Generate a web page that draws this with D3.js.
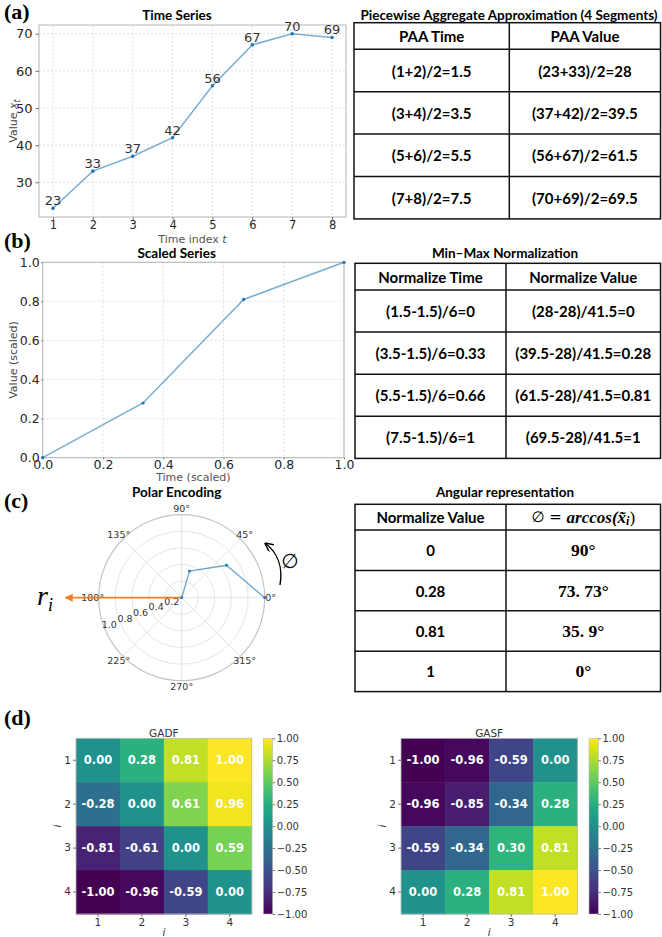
<!DOCTYPE html>
<html><head><meta charset="utf-8">
<script src="https://cdn.jsdelivr.net/npm/d3@7"></script>
<style>body{margin:0;background:#fff}svg{display:block}</style>
</head><body>
<svg id="c" width="662" height="937"></svg>
<script>
// ---------------- DATA ----------------
const timeIdx = [1, 2, 3, 4, 5, 6, 7, 8];
const values = [23, 33, 37, 42, 56, 67, 70, 69];
const tsYTicks = [30, 40, 50, 60, 70];
const scaledTime = [0, 0.333, 0.667, 1];
const scaledValue = [0, 0.28, 0.81, 1];
const scaledTicks = [0, 0.2, 0.4, 0.6, 0.8, 1.0];
const phiDeg = [90, 73.73, 35.9, 0];
const polarAngleTicks = [0, 45, 90, 135, 180, 225, 270, 315];
const polarRTicks = [0.2, 0.4, 0.6, 0.8, 1.0];
const paaHeader = ["PAA Time", "PAA Value"];
const paaTime = ["(1+2)/2=1.5", "(3+4)/2=3.5", "(5+6)/2=5.5", "(7+8)/2=7.5"];
const paaValue = ["(23+33)/2=28", "(37+42)/2=39.5", "(56+67)/2=61.5", "(70+69)/2=69.5"];
const normHeader = ["Normalize Time", "Normalize Value"];
const normTime = ["(1.5-1.5)/6=0", "(3.5-1.5)/6=0.33", "(5.5-1.5)/6=0.66", "(7.5-1.5)/6=1"];
const normValue = ["(28-28)/41.5=0", "(39.5-28)/41.5=0.28", "(61.5-28)/41.5=0.81", "(69.5-28)/41.5=1"];
const angHeader = ["Normalize Value", "phi"];
const angValue = ["0", "0.28", "0.81", "1"];
const angPhi = ["90°", "73. 73°", "35. 9°", "0°"];
const heatIdx = [1, 2, 3, 4];
const gadf = [[0.00, 0.28, 0.81, 1.00], [-0.28, 0.00, 0.61, 0.96], [-0.81, -0.61, 0.00, 0.59], [-1.00, -0.96, -0.59, 0.00]];
const gasf = [[-1.00, -0.96, -0.59, 0.00], [-0.96, -0.85, -0.34, 0.28], [-0.59, -0.34, 0.30, 0.81], [0.00, 0.28, 0.81, 1.00]];
const cbTicks = [1.00, 0.75, 0.50, 0.25, 0.00, -0.25, -0.50, -0.75, -1.00];

// ---------------- STYLE ----------------
const SANS = "DejaVu Sans", CAL = "Lato", SERIF = "Liberation Serif";
const BLUE = "#1f77b4", ORANGE = "#f07f23";
const svg = d3.select("#c");
const defs = svg.append("defs");

function styleAxis(g, size, color) {
  g.select(".domain").remove();
  g.selectAll(".tick line").attr("stroke", "#555").attr("stroke-width", 0.8);
  g.selectAll(".tick text").attr("font-family", SANS).attr("font-size", size).attr("fill", color || "#262626");
}

// panel labels
[["(a)", 4, 19], ["(b)", 4, 248], ["(c)", 4, 508], ["(d)", 4, 725]].forEach(p => {
  svg.append("text").attr("x", p[1]).attr("y", p[2]).text(p[0])
    .attr("font-family", SERIF).attr("font-weight", "bold").attr("font-size", 22).attr("fill", "#000");
});

function title(txt, x, y, size) {
  svg.append("text").attr("x", x).attr("y", y).text(txt).attr("text-anchor", "middle")
    .attr("dominant-baseline", "central").attr("font-family", CAL).attr("font-weight", "bold")
    .attr("font-size", size || 13.5).attr("fill", "#000");
}

// ---------------- (a) Time series ----------------
{
  const L = 39, R = 346, T = 25, B = 217;
  const x = d3.scaleLinear().domain([0.65, 8.35]).range([L, R]);
  const y = d3.scaleLinear().domain([20.65, 72.35]).range([B, T]);
  const g = svg.append("g");
  g.selectAll(".gx").data(timeIdx).join("line").attr("x1", d => x(d)).attr("x2", d => x(d)).attr("y1", T).attr("y2", B)
    .attr("stroke", "#d8d8d8").attr("stroke-width", 0.8).attr("stroke-dasharray", "2,2");
  g.selectAll(".gy").data(tsYTicks).join("line").attr("y1", d => y(d)).attr("y2", d => y(d)).attr("x1", L).attr("x2", R)
    .attr("stroke", "#d8d8d8").attr("stroke-width", 0.8).attr("stroke-dasharray", "2,2");
  g.append("rect").attr("x", L).attr("y", T).attr("width", R - L).attr("height", B - T).attr("fill", "none").attr("stroke", "#b5b5b5");
  const ax = g.append("g").attr("transform", `translate(0,${B})`).call(d3.axisBottom(x).tickValues(timeIdx).tickSize(3).tickPadding(1).tickFormat(d3.format("d")));
  styleAxis(ax, 11.5);
  const ay = g.append("g").attr("transform", `translate(${L},0)`).call(d3.axisLeft(y).tickValues(tsYTicks).tickSize(3.5).tickPadding(3).tickFormat(d3.format("d")));
  styleAxis(ay, 13);
  const pts = d3.zip(timeIdx, values);
  g.append("path").datum(pts).attr("d", d3.line().x(d => x(d[0])).y(d => y(d[1])))
    .attr("fill", "none").attr("stroke", BLUE).attr("stroke-opacity", 0.6).attr("stroke-width", 1.5);
  g.selectAll(".pt").data(pts).join("circle").attr("cx", d => x(d[0])).attr("cy", d => y(d[1])).attr("r", 1.8).attr("fill", BLUE);
  g.selectAll(".lb").data(pts).join("text").attr("x", d => x(d[0])).attr("y", d => y(d[1]) - 3).text(d => d[1])
    .attr("text-anchor", "middle").attr("font-family", SANS).attr("font-size", 13).attr("fill", "#333");
  // axis labels
  const yl = g.append("text").attr("transform", `translate(17,${(T + B) / 2}) rotate(-90)`).attr("text-anchor", "middle")
    .attr("font-family", SANS).attr("font-size", 11).attr("fill", "#444");
  yl.append("tspan").text("Value ");
  yl.append("tspan").text("x").attr("font-style", "italic");
  yl.append("tspan").text("t").attr("font-style", "italic").attr("font-size", 8).attr("dy", 3);
  const xl = g.append("text").attr("x", (L + R) / 2).attr("y", 242.5).attr("text-anchor", "middle")
    .attr("font-family", SANS).attr("font-size", 11).attr("fill", "#555");
  xl.append("tspan").text("Time index ");
  xl.append("tspan").text("t").attr("font-style", "italic");
  title("Time Series", 177, 15);
}

// ---------------- (b) Scaled series ----------------
{
  const L = 42.7, R = 344, T = 262.3, B = 457.7;
  const x = d3.scaleLinear().domain([0, 1]).range([L, R]);
  const y = d3.scaleLinear().domain([0, 1]).range([B, T]);
  const g = svg.append("g");
  g.selectAll(".gx").data(scaledTicks).join("line").attr("x1", d => x(d)).attr("x2", d => x(d)).attr("y1", T).attr("y2", B)
    .attr("stroke", "#d8d8d8").attr("stroke-width", 0.8).attr("stroke-dasharray", "2,2");
  g.selectAll(".gy").data(scaledTicks).join("line").attr("y1", d => y(d)).attr("y2", d => y(d)).attr("x1", L).attr("x2", R)
    .attr("stroke", "#d8d8d8").attr("stroke-width", 0.8).attr("stroke-dasharray", "2,2");
  g.append("rect").attr("x", L).attr("y", T).attr("width", R - L).attr("height", B - T).attr("fill", "none").attr("stroke", "#b5b5b5");
  const ax = g.append("g").attr("transform", `translate(0,${B})`).call(d3.axisBottom(x).tickValues(scaledTicks).tickSize(1.5).tickPadding(1).tickFormat(d3.format(".1f")));
  styleAxis(ax, 12.5);
  const ay = g.append("g").attr("transform", `translate(${L},0)`).call(d3.axisLeft(y).tickValues(scaledTicks).tickSize(1.5).tickPadding(1.5).tickFormat(d3.format(".1f")));
  styleAxis(ay, 12.5);
  const pts = d3.zip(scaledTime, scaledValue);
  g.append("path").datum(pts).attr("d", d3.line().x(d => x(d[0])).y(d => y(d[1])))
    .attr("fill", "none").attr("stroke", BLUE).attr("stroke-opacity", 0.6).attr("stroke-width", 1.5);
  g.selectAll(".pt").data(pts).join("circle").attr("cx", d => x(d[0])).attr("cy", d => y(d[1])).attr("r", 1.6).attr("fill", BLUE);
  g.append("text").attr("transform", `translate(13,${(T + B) / 2}) rotate(-90)`).attr("text-anchor", "middle")
    .attr("dominant-baseline", "central").attr("font-family", SANS).attr("font-size", 11).attr("fill", "#444").text("Value (scaled)");
  g.append("text").attr("x", (L + R) / 2).attr("y", 481).attr("text-anchor", "middle")
    .attr("font-family", SANS).attr("font-size", 11).attr("fill", "#555").text("Time (scaled)");
  title("Scaled Series", 176.7, 253);
}

// ---------------- (c) Polar ----------------
{
  const cx = 181.7, cy = 597.7;
  const r = d3.scaleLinear().domain([0, 1]).range([0, 83]);
  const g = svg.append("g").attr("transform", `translate(${cx},${cy})`);
  const rad = a => a * Math.PI / 180;
  g.selectAll(".spoke").data(polarAngleTicks).join("line").attr("x1", 0).attr("y1", 0)
    .attr("x2", d => r(1) * Math.cos(rad(d))).attr("y2", d => -r(1) * Math.sin(rad(d)))
    .attr("stroke", "#e2e2e2").attr("stroke-width", 0.9);
  g.selectAll(".ring").data(polarRTicks.slice(0, -1)).join("circle").attr("r", d => r(d))
    .attr("fill", "none").attr("stroke", "#e2e2e2").attr("stroke-width", 0.9);
  g.append("circle").attr("r", r(1)).attr("fill", "none").attr("stroke", "#c4c4c4").attr("stroke-width", 1.2);
  g.selectAll(".alab").data(polarAngleTicks).join("text")
    .attr("x", d => (r(1) + 6) * Math.cos(rad(d))).attr("y", d => -(r(1) + 6) * Math.sin(rad(d)))
    .text(d => d + "°").attr("text-anchor", "middle").attr("dominant-baseline", "central")
    .attr("font-family", SANS).attr("font-size", 9.5).attr("fill", "#333");
  g.selectAll(".rlab").data(polarRTicks).join("text")
    .attr("x", d => (r(d) - 6) * Math.cos(rad(200))).attr("y", d => -(r(d) - 6) * Math.sin(rad(200)))
    .text(d => d3.format(".1f")(d)).attr("text-anchor", "middle").attr("dominant-baseline", "central")
    .attr("font-family", SANS).attr("font-size", 9.5).attr("fill", "#333");
  const pts = d3.zip(phiDeg, scaledTime);
  // orange r_i arrow
  defs.append("marker").attr("id", "arrO").attr("viewBox", "0 0 10 10").attr("refX", 9).attr("refY", 5)
    .attr("markerWidth", 9).attr("markerHeight", 8).attr("markerUnits", "userSpaceOnUse").attr("orient", "auto")
    .append("path").attr("d", "M0,0L10,5L0,10z").attr("fill", ORANGE);
  g.append("line").attr("x1", 0).attr("y1", 0).attr("x2", r(1.4) * Math.cos(rad(180))).attr("y2", 0)
    .attr("stroke", ORANGE).attr("stroke-width", 1.8).attr("marker-end", "url(#arrO)");
  g.append("path").datum(pts).attr("d", d3.lineRadial().angle(d => Math.PI / 2 - rad(d[0])).radius(d => r(d[1])))
    .attr("fill", "none").attr("stroke", BLUE).attr("stroke-opacity", 0.65).attr("stroke-width", 1.3);
  g.selectAll(".pp").data(pts).join("circle").attr("cx", d => r(d[1]) * Math.cos(rad(d[0]))).attr("cy", d => -r(d[1]) * Math.sin(rad(d[0])))
    .attr("r", 1.4).attr("fill", BLUE);
  // curved phi arrow
  defs.append("marker").attr("id", "arrK").attr("viewBox", "0 0 10 10").attr("refX", 9).attr("refY", 5)
    .attr("markerWidth", 9).attr("markerHeight", 9).attr("markerUnits", "userSpaceOnUse").attr("orient", "auto")
    .append("path").attr("d", "M0,0L10,5L0,10").attr("fill", "none").attr("stroke", "#000").attr("stroke-width", 1.6);
  svg.append("path").attr("d", "M280,585 C283,568 278,553 265.5,543.5").attr("fill", "none").attr("stroke", "#000")
    .attr("stroke-width", 1.4).attr("marker-end", "url(#arrK)");
  svg.append("text").attr("x", 290).attr("y", 561).text("∅").attr("text-anchor", "middle").attr("dominant-baseline", "central")
    .attr("font-family", SANS).attr("font-size", 20).attr("fill", "#000");
  const ri = svg.append("text").attr("x", 37).attr("y", 605).attr("font-family", SERIF).attr("font-style", "italic").attr("fill", "#000");
  ri.append("tspan").text("r").attr("font-size", 28);
  ri.append("tspan").text("i").attr("font-size", 18).attr("dy", 6);
  title("Polar Encoding", 176.7, 492);
}

// ---------------- Tables ----------------
function drawTable(cfg) {
  const g = svg.append("g");
  const ys = [cfg.top, cfg.top + cfg.headH];
  cfg.col1.forEach(() => ys.push(ys[ys.length - 1] + cfg.rowH));
  const x0 = cfg.x0, xd = cfg.xd, x1 = cfg.x1;
  const yEnd = ys[ys.length - 1];
  g.append("rect").attr("x", x0).attr("y", cfg.top).attr("width", x1 - x0).attr("height", yEnd - cfg.top)
    .attr("fill", "none").attr("stroke", "#111").attr("stroke-width", 1.5);
  g.selectAll(".hl").data(ys.slice(1, -1)).join("line").attr("x1", x0).attr("x2", x1).attr("y1", d => d).attr("y2", d => d)
    .attr("stroke", "#111").attr("stroke-width", 1.5);
  g.append("line").attr("x1", xd).attr("x2", xd).attr("y1", cfg.top).attr("y2", yEnd).attr("stroke", "#111").attr("stroke-width", 1.5);
  const c1 = (x0 + xd) / 2, c2 = (xd + x1) / 2;
  const cell = (txt, x, y, fam, size) => g.append("text").attr("x", x).attr("y", y).text(txt).attr("text-anchor", "middle")
    .attr("dominant-baseline", "central").attr("font-family", fam).attr("font-weight", "bold").attr("font-size", size).attr("fill", "#000");
  const hy = (ys[0] + ys[1]) / 2;
  cell(cfg.header[0], c1, hy, CAL, 15);
  if (cfg.header[1] === "phi") {
    const t = g.append("text").attr("x", c2).attr("y", hy).attr("text-anchor", "middle").attr("dominant-baseline", "central")
      .attr("font-family", SERIF).attr("font-size", 17).attr("fill", "#000");
    t.append("tspan").text("∅ = ").attr("font-family", SANS).attr("font-size", 15);
    t.append("tspan").text("arccos(x̃").attr("font-style", "italic").attr("font-weight", "bold");
    t.append("tspan").text("i").attr("font-style", "italic").attr("font-weight", "bold").attr("font-size", 12).attr("dy", 4);
    t.append("tspan").text(")").attr("dy", -4);
  } else cell(cfg.header[1], c2, hy, CAL, 15);
  cfg.col1.forEach((d, i) => cell(d, c1, (ys[i + 1] + ys[i + 2]) / 2, CAL, 15));
  cfg.col2.forEach((d, i) => cell(d, c2, (ys[i + 1] + ys[i + 2]) / 2, cfg.col2Font || CAL, cfg.col2Size || 15));
  title(cfg.title, cfg.titleX, cfg.titleY);
}
drawTable({ x0: 354, xd: 509.3, x1: 660.5, top: 22.7, headH: 26.6, rowH: 42.4, header: paaHeader, col1: paaTime, col2: paaValue,
  title: "Piecewise Aggregate Approximation (4 Segments)", titleX: 509, titleY: 15 });
drawTable({ x0: 355, xd: 506, x1: 660.5, top: 263.3, headH: 26.7, rowH: 42.1, header: normHeader, col1: normTime, col2: normValue,
  title: "Min–Max Normalization", titleX: 505, titleY: 252.7 });
drawTable({ x0: 355, xd: 506, x1: 660.5, top: 504.3, headH: 25.7, rowH: 40.4, header: angHeader, col1: angValue, col2: angPhi,
  col2Font: SERIF, col2Size: 17.5, title: "Angular representation", titleX: 505, titleY: 491.7 });

// ---------------- (d) Heatmaps ----------------
const color = d3.scaleSequential(d3.interpolateViridis).domain([-1, 1]);
const grad = defs.append("linearGradient").attr("id", "vir").attr("x1", 0).attr("y1", 1).attr("x2", 0).attr("y2", 0);
d3.range(0, 1.0001, 0.05).forEach(t => grad.append("stop").attr("offset", t).attr("stop-color", d3.interpolateViridis(t)));

function heatmap(mat, name, L, R, cbX) {
  const T = 738.3, B = 914;
  const x = d3.scaleBand().domain(heatIdx).range([L, R]);
  const y = d3.scaleBand().domain(heatIdx).range([T, B]);
  const g = svg.append("g");
  const cells = [];
  mat.forEach((row, i) => row.forEach((v, j) => cells.push({ r: heatIdx[i], c: heatIdx[j], v })));
  g.selectAll(".cell").data(cells).join("rect").attr("x", d => x(d.c)).attr("y", d => y(d.r))
    .attr("width", x.bandwidth() + 0.5).attr("height", y.bandwidth() + 0.5).attr("fill", d => color(d.v));
  g.selectAll(".ct").data(cells).join("text").attr("x", d => x(d.c) + x.bandwidth() / 2).attr("y", d => y(d.r) + y.bandwidth() / 2)
    .text(d => d3.format(".2f")(d.v).replace("−", "-")).attr("text-anchor", "middle").attr("dominant-baseline", "central")
    .attr("font-family", SANS).attr("font-weight", "bold").attr("font-size", 11.5).attr("fill", "#fff");
  g.append("rect").attr("x", L).attr("y", T).attr("width", R - L).attr("height", B - T).attr("fill", "none").attr("stroke", "#bbb").attr("stroke-width", 0.8);
  const ax = g.append("g").attr("transform", `translate(0,${B})`).call(d3.axisBottom(x).tickSize(3).tickPadding(2));
  styleAxis(ax, 10.5, "#333");
  const ay = g.append("g").attr("transform", `translate(${L},0)`).call(d3.axisLeft(y).tickSize(3).tickPadding(2));
  styleAxis(ay, 10.5, "#333");
  g.append("text").attr("x", (L + R) / 2).attr("y", 733).text(name).attr("text-anchor", "middle").attr("dominant-baseline", "central")
    .attr("font-family", SANS).attr("font-size", 10.5).attr("fill", "#333");
  g.append("text").attr("transform", `translate(${L - 19},${(T + B) / 2}) rotate(-90)`).text("i").attr("text-anchor", "middle")
    .attr("dominant-baseline", "central").attr("font-family", SANS).attr("font-style", "italic").attr("font-size", 10.5).attr("fill", "#333");
  g.append("text").attr("x", (L + R) / 2).attr("y", 936).text("i").attr("text-anchor", "middle")
    .attr("font-family", SANS).attr("font-style", "italic").attr("font-size", 10.5).attr("fill", "#333");
  // colorbar
  const cy = d3.scaleLinear().domain([-1, 1]).range([B, T]);
  g.append("rect").attr("x", cbX).attr("y", T).attr("width", 9.4).attr("height", B - T).attr("fill", "url(#vir)")
    .attr("stroke", "#bbb").attr("stroke-width", 0.6);
  const cax = g.append("g").attr("transform", `translate(${cbX + 9.4},0)`)
    .call(d3.axisRight(cy).tickValues(cbTicks).tickSize(2.5).tickPadding(1.5).tickFormat(d => d3.format(".2f")(d).replace("-", "−")));
  styleAxis(cax, 10, "#333");
}
heatmap(gadf, "GADF", 76, 251.7, 263.3);
heatmap(gasf, "GASF", 401, 577.3, 589);
</script>
</body></html>
